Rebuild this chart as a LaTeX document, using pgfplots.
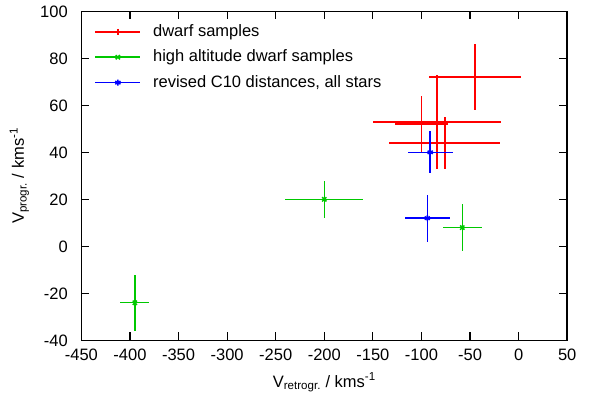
\documentclass[border=0pt]{standalone}
\usepackage{fontspec}
\setmainfont{Liberation Sans}
\usepackage{pgfplots}
\pgfplotsset{compat=1.18}
\usepackage{pgfplotstable}
\definecolor{gred}{RGB}{255,0,0}
\definecolor{ggreen}{RGB}{0,200,0}
\definecolor{gblue}{RGB}{0,0,255}
\pgfplotstableread{
x y ex ey
-45 72 47 14
-84 53 66 20
-76 44 57 11
-100 52 27 12
}\dwarf
\pgfplotstableread{
x y ex ey
-395 -24 15 12
-200 20 40 8
-58 8 20 10
}\high
\pgfplotstableread{
x y ex ey
-94 12 23 10
-91 40 23 9
}\revised
\begin{document}
\fontsize{16.5}{19}\selectfont
\begin{tikzpicture}
\begin{axis}[
  scale only axis,
  width=485.8pt, height=329pt,
  xmin=-450, xmax=50, ymin=-40, ymax=100,
  xtick={-450,-400,...,50}, ytick={-40,-20,...,100},
  tick align=inside,
  major tick length=8pt,
  minor tick num=0,
  axis line style={line width=1.6pt},
  every tick/.style={black, line width=1.2pt},
  /pgf/number format/assume math mode=true,
  /pgf/number format/1000 sep={},
  tick label style={font=\fontsize{16.5}{19}\selectfont},
  yticklabel style={xshift=-8pt},
  xticklabel style={yshift=-3pt},
  label style={font=\fontsize{16.5}{19}\selectfont},
  xlabel={V\textsubscript{retrogr.} / kms\textsuperscript{-1}},
  ylabel={V\textsubscript{progr.} / kms\textsuperscript{-1}},
  xlabel style={yshift=-1pt},
  ylabel style={yshift=0pt},
  legend cell align=left,
  legend style={at={(0,1)}, anchor=north west, draw=none, fill=none,
    xshift=10pt, yshift=-9pt, font=\fontsize{16.5}{19}\selectfont,
    row sep=7pt, nodes={inner xsep=8pt}},
  legend image code/.code={
    \draw[#1, mark=none] (0pt,0pt) -- (45pt,0pt);
    \draw[#1, only marks] plot coordinates {(22.5pt,0pt)};
    \path (49pt,0pt);
  },
]
\addplot[color=gred, line width=1.5pt, mark=+, mark size=3pt, only marks,
  error bars/.cd, x dir=both, x explicit, y dir=both, y explicit, error mark=none,
  error bar style={color=gred, line width=1.5pt}]
  table[x=x, y=y, x error=ex, y error=ey]{\dwarf};
\addlegendentry{dwarf samples}
\addplot[color=ggreen, line width=1.5pt, mark=x, mark size=3pt, only marks,
  error bars/.cd, x dir=both, x explicit, y dir=both, y explicit, error mark=none,
  error bar style={color=ggreen, line width=1.5pt}]
  table[x=x, y=y, x error=ex, y error=ey]{\high};
\addlegendentry{high altitude dwarf samples}
\addplot[color=gblue, line width=1.5pt, mark=asterisk, mark size=3pt, only marks,
  error bars/.cd, x dir=both, x explicit, y dir=both, y explicit, error mark=none,
  error bar style={color=gblue, line width=1.5pt}]
  table[x=x, y=y, x error=ex, y error=ey]{\revised};
\addlegendentry{revised C10 distances, all stars}
\end{axis}
\path[use as bounding box] ([xshift=-81.4pt,yshift=-54.3pt]current axis.south west) rectangle ([xshift=30.8pt,yshift=9.7pt]current axis.north east);
\end{tikzpicture}
\end{document}
